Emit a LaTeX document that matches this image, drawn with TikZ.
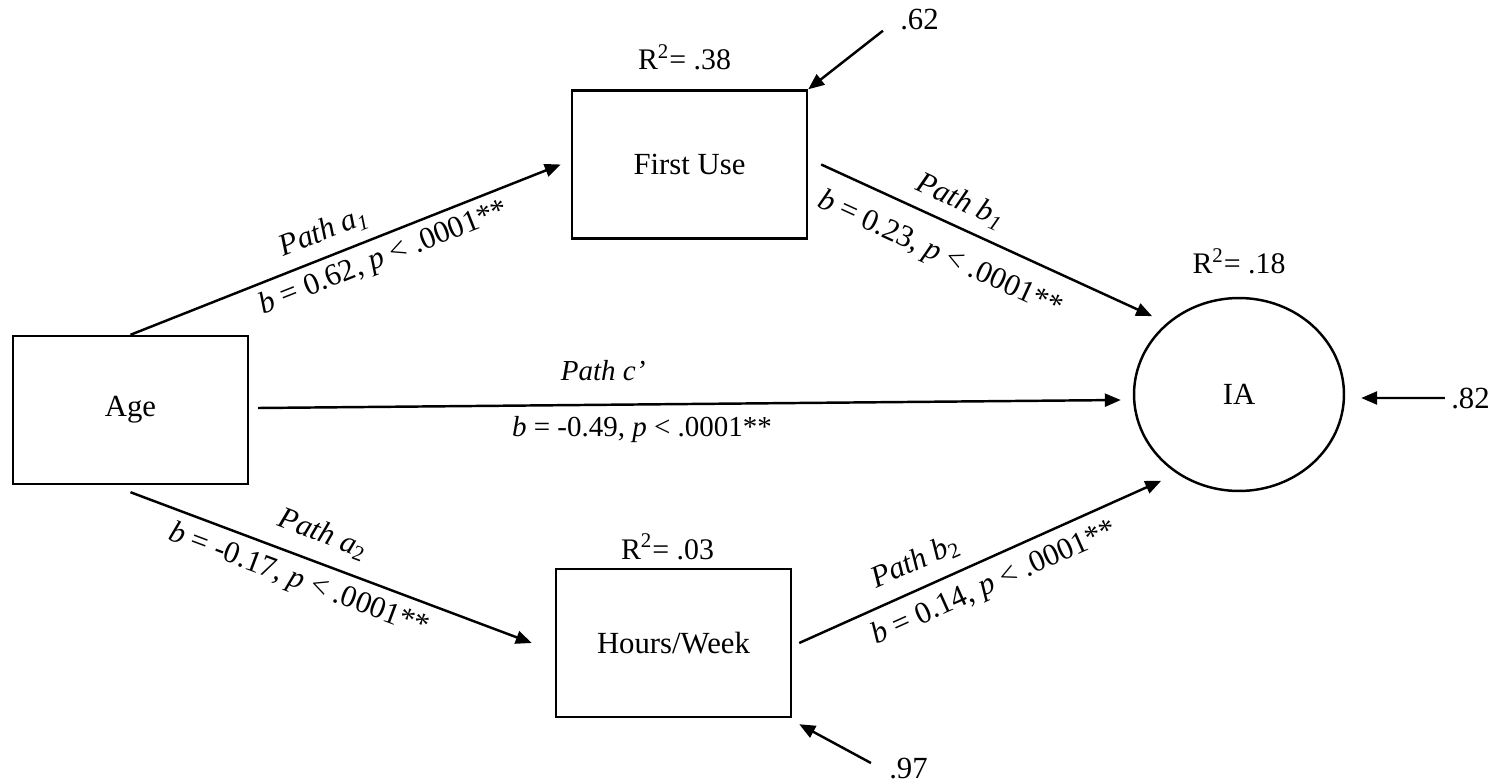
\documentclass[tikz,border=0pt]{standalone}
\usepackage{fontspec}
\setmainfont{Liberation Serif}
\usetikzlibrary{arrows.meta,positioning,shapes.geometric}

\tikzset{
  var/.style={rectangle, draw, line width=1.4pt, minimum width=4.7cm,
              minimum height=2.96cm, font=\fontsize{17.5}{20}\selectfont},
  lat/.style={ellipse, draw, line width=1.4pt, minimum width=4.2cm,
              minimum height=3.86cm, inner sep=0pt, font=\fontsize{17.5}{20}\selectfont},
  arr/.style={-{Triangle[length=0.32cm,width=0.26cm]}, line width=1.4pt},
  rsq/.style={inner sep=0pt, font=\fontsize{17}{20}\selectfont},
  err/.style={inner sep=0pt, font=\fontsize{17.5}{20}\selectfont},
  plbl/.style={sloped, inner sep=4pt, font=\fontsize{17.5}{20}\selectfont},
  hlbl/.style={inner sep=5pt, font=\fontsize{16.5}{20}\selectfont},
}

\begin{document}
\begin{tikzpicture}[x=0.02cm, y=-0.02cm]
\useasboundingbox (0,0) rectangle (1495,784);

% variables
\node[var] (age) at (130.5,410) {Age};
\node[var] (first) at (689.5,164.5) {First Use};
\node[var] (hours) at (673.5,643) {Hours/Week};
\node[lat] (ia) at (1239,394.5) {IA};

% explained variance
\node[rsq, above=0.38cm of first, xshift=-0.1cm] (r1) {R\textsuperscript{2}= .38};
\node[rsq, above=0.46cm of ia] (r3) {R\textsuperscript{2}= .18};
\node[rsq, above=0.16cm of hours, xshift=-0.12cm] (r2) {R\textsuperscript{2}= .03};

% disturbances
\node[err] (e1) at (919.5,20) {.62};
\node[err] (e3) at (1470.5,398) {.82};
\node[err] (e2) at (908.5,769) {.97};

\draw[arr] ([xshift=-0.34cm]e1.south west) -- (first.north east);
\draw[arr] ([xshift=-0.12cm]e3.west) -- ([xshift=0.32cm,yshift=-0.07cm]ia.east);
\draw[arr] ([shift={(-0.36cm,0.12cm)}]e2.west) -- ([shift={(0.14cm,-0.12cm)}]hours.south east);

% paths
\draw[arr] (age.north) -- ([xshift=-0.2cm]first.west)
  node[plbl, pos=.47, above=2pt] {\textit{Path a}\textsubscript{\textit{1}}}
  node[plbl, pos=.57, below] {\textit{b} = 0.62, \textit{p} < .0001**};
\draw[arr] ([yshift=-0.14cm]age.south) -- ([xshift=-0.46cm]hours.west)
  node[plbl, pos=.455, above=4pt] {\textit{Path a}\textsubscript{2}}
  node[plbl, pos=.44, below=1pt] {\textit{b} = -0.17, \textit{p} < .0001**};
\draw[arr] ([xshift=0.18cm,yshift=0.04cm]age.east) -- ([xshift=-0.24cm,yshift=-0.11cm]ia.west)
  node[hlbl, pos=.4, above=8pt] {\textit{Path c’}}
  node[hlbl, pos=.445, below=1pt] {\textit{b} = -0.49, \textit{p} < .0001**};
\draw[arr] ([xshift=0.26cm]first.east) -- ([shift={(-0.22cm,0.2cm)}]ia.138)
  node[plbl, pos=.39, above=2pt] {\textit{Path b}\textsubscript{\textit{1}}}
  node[plbl, pos=.4, below=6pt] {\textit{b} = 0.23, \textit{p} < .0001**};
\draw[arr] ([xshift=0.14cm]hours.east) -- ([shift={(-0.2cm,-0.22cm)}]ia.228)
  node[plbl, pos=.35, above=3pt] {\textit{Path b}\textsubscript{2}}
  node[plbl, pos=.51, below=2pt] {\textit{b} = 0.14, \textit{p} < .0001**};
\end{tikzpicture}
\end{document}
